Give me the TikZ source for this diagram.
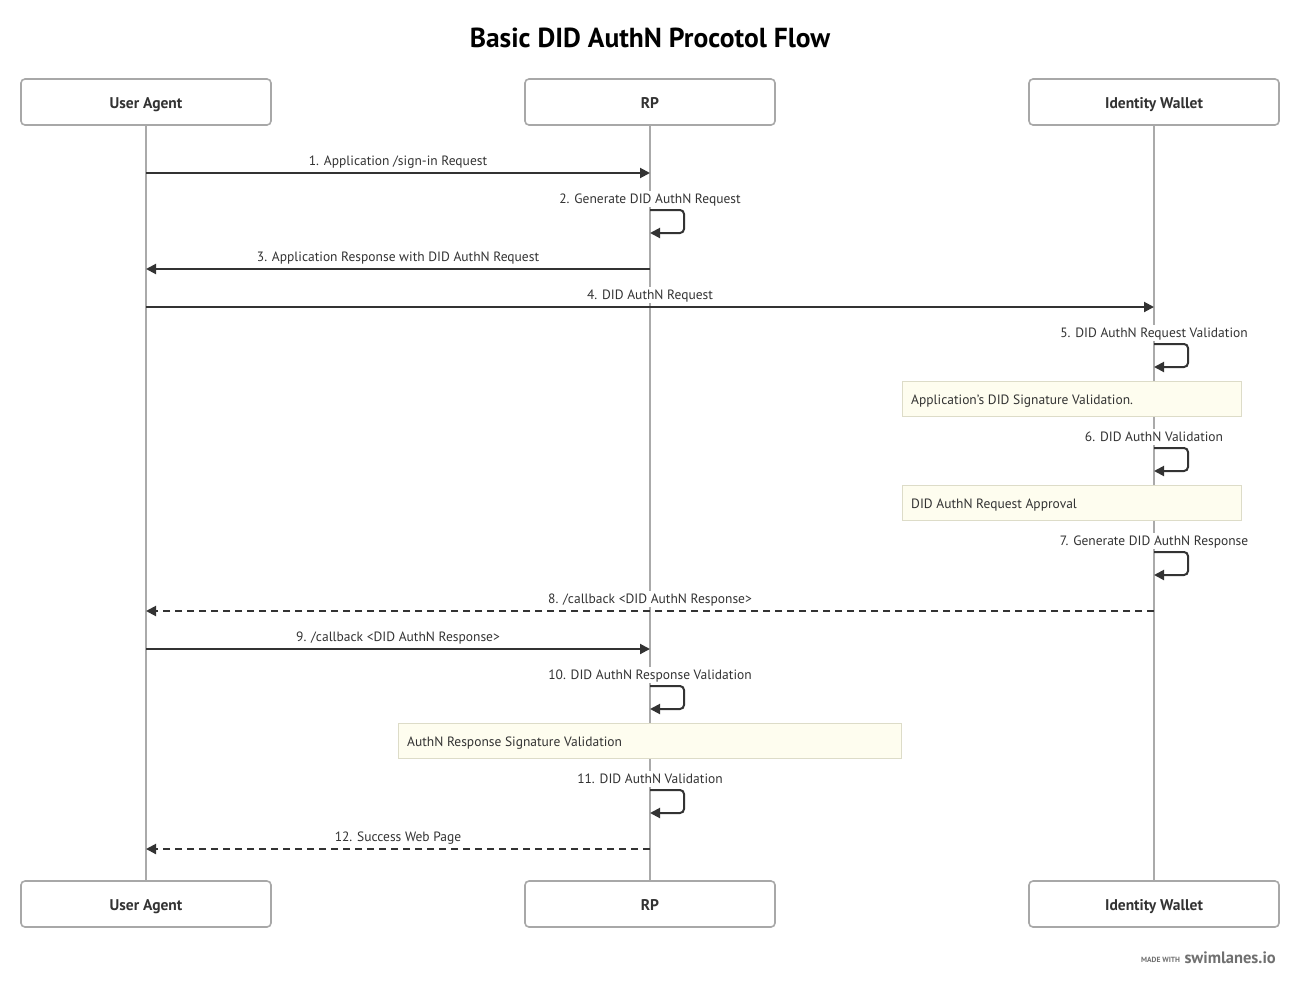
\documentclass[tikz,border=0pt]{standalone}
\usepackage{fontspec}
\setmainfont{PT Sans}
\usetikzlibrary{arrows.meta}
\definecolor{ink}{HTML}{333333}
\definecolor{lifec}{HTML}{AAAAAA}
\definecolor{boxc}{HTML}{A8A8A8}
\definecolor{notefill}{HTML}{FEFDEF}
\definecolor{notedraw}{HTML}{DDDCC8}
\definecolor{footc}{HTML}{707070}
\tikzset{
  party/.style={draw=boxc, line width=1.6pt, rounded corners=4pt, fill=white,
    minimum width=250pt, minimum height=46pt, inner sep=0pt, text=ink,
    text height=13pt, text depth=1pt,
    font=\fontsize{15.5}{18}\selectfont\bfseries},
  life/.style={draw=lifec, line width=2pt},
  msg/.style={draw=ink, line width=2pt, -{Triangle[length=10pt,width=10pt]}},
  dmsg/.style={msg, dash pattern=on 7pt off 5pt},
  lbl/.style={fill=white, inner sep=1.5pt, text=ink, text height=11pt, text depth=2pt,
    font=\fontsize{13.5}{15}\selectfont},
  note/.style={draw=notedraw, line width=1pt, fill=notefill, inner sep=0pt, text=ink,
    font=\fontsize{13.5}{15}\selectfont, anchor=north west},
  notetxt/.style={text=ink, font=\fontsize{13.5}{15}\selectfont, anchor=west, inner sep=0pt,
    text height=11pt, text depth=2pt},
}
\begin{document}
\begin{tikzpicture}[x=1pt,y=-1pt]
\useasboundingbox[fill=white] (0,0) rectangle (1300,988);
\node[text=black, font=\fontsize{27.5}{30}\selectfont\bfseries] (title) at (650,38) {Basic DID AuthN Procotol Flow};
% participants
\node[party] (uaT) at (146,102) {User Agent};
\node[party] (rpT) at (650,102) {RP};
\node[party] (iwT) at (1154,102) {Identity Wallet};
\node[party] (uaB) at (146,904) {User Agent};
\node[party] (rpB) at (650,904) {RP};
\node[party] (iwB) at (1154,904) {Identity Wallet};
% lifelines
\draw[life] (uaT.south) -- (uaB.north);
\draw[life] (rpT.south) -- (rpB.north);
\draw[life] (iwT.south) -- (iwB.north);
% labels
\node[lbl] (l1) at (398,161) {1. Application /sign-in Request};
\node[lbl] (l2) at (650,199) {2. Generate DID AuthN Request};
\node[lbl] (l3) at (398,257) {3. Application Response with DID AuthN Request};
\node[lbl] (l4) at (650,295) {4. DID AuthN Request};
\node[lbl] (l5) at (1154,333) {5. DID AuthN Request Validation};
\node[lbl] (l6) at (1154,437) {6. DID AuthN Validation};
\node[lbl] (l7) at (1154,541) {7. Generate DID AuthN Response};
\node[lbl] (l8) at (650,599) {8. /callback <DID AuthN Response>};
\node[lbl] (l9) at (398,637) {9. /callback <DID AuthN Response>};
\node[lbl] (l10) at (650,675) {10. DID AuthN Response Validation};
\node[lbl] (l11) at (650,779) {11. DID AuthN Validation};
\node[lbl] (l12) at (398,837) {12. Success Web Page};
% notes
\node[note, minimum width=339pt, minimum height=35pt] (n1) at (902,381) {};
\node[notetxt] (n1t) at (911,400) {Application's DID Signature Validation.};
\node[note, minimum width=339pt, minimum height=35pt] (n2) at (902,485) {};
\node[notetxt] (n2t) at (911,504) {DID AuthN Request Approval};
\node[note, minimum width=503pt, minimum height=35pt] (n3) at (398,723) {};
\node[notetxt] (n3t) at (407,742) {AuthN Response Signature Validation};
% messages
\draw[msg] (uaT |- 0,173) -- (rpT |- 0,173);
\draw[msg, rounded corners=4pt] (rpT |- 0,210) -- ++(34,0) -- ++(0,23) -- (rpT |- 0,233);
\draw[msg] (rpT |- 0,269) -- (uaT |- 0,269);
\draw[msg] (uaT |- 0,307) -- (iwT |- 0,307);
\draw[msg, rounded corners=4pt] (iwT |- 0,344) -- ++(34,0) -- ++(0,23) -- (iwT |- 0,367);
\draw[msg, rounded corners=4pt] (iwT |- 0,448) -- ++(34,0) -- ++(0,23) -- (iwT |- 0,471);
\draw[msg, rounded corners=4pt] (iwT |- 0,552) -- ++(34,0) -- ++(0,23) -- (iwT |- 0,575);
\draw[dmsg] (iwT |- 0,611) -- (uaT |- 0,611);
\draw[msg] (uaT |- 0,649) -- (rpT |- 0,649);
\draw[msg, rounded corners=4pt] (rpT |- 0,686) -- ++(34,0) -- ++(0,23) -- (rpT |- 0,709);
\draw[msg, rounded corners=4pt] (rpT |- 0,790) -- ++(34,0) -- ++(0,23) -- (rpT |- 0,813);
\draw[dmsg] (rpT |- 0,849) -- (uaT |- 0,849);
% footer
\node[text=footc, font=\fontsize{16.5}{18}\selectfont\bfseries, anchor=east, inner sep=0pt] (sw) at (1276,958) {swimlanes.io};
\node[text=footc, font=\fontsize{7.5}{8}\selectfont\bfseries, anchor=east, inner sep=0pt] (mw) at ([xshift=-4pt,yshift=-2pt]sw.west) {MADE WITH};
\end{tikzpicture}
\end{document}
